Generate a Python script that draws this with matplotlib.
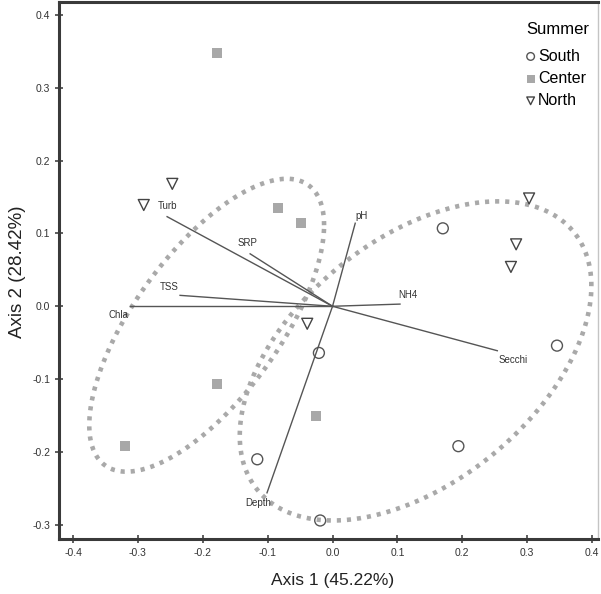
import numpy as np
import matplotlib.pyplot as plt

plt.rcParams['font.family'] = ['Liberation Sans', 'DejaVu Sans']
plt.rcParams['axes.unicode_minus'] = False

# ---- site scores on ordination axes 1 and 2 ----
south_x = [0.170, 0.346, 0.194, -0.021, -0.116, -0.019]
south_y = [0.107, -0.054, -0.192, -0.064, -0.210, -0.294]

center_x = [-0.178, -0.084, -0.049, -0.178, -0.320, -0.025]
center_y = [0.347, 0.135, 0.114, -0.106, -0.192, -0.150]

north_x = [-0.247, -0.291, 0.303, 0.283, 0.275, -0.039]
north_y = [0.168, 0.139, 0.148, 0.085, 0.054, -0.024]

# ---- environmental vectors ----
env_names = ['Turb', 'SRP', 'TSS', 'Chla', 'pH', 'NH4', 'Secchi', 'Depth']
env_x = [-0.255, -0.127, -0.235, -0.312, 0.035, 0.104, 0.254, -0.101]
env_y = [0.123, 0.072, 0.015, 0.000, 0.114, 0.003, -0.061, -0.256]

# ---- group ellipses: centre, half ranges, x/y coupling ----
ell_center = [(-0.194, -0.026), (0.128, -0.075)]
ell_half = [(0.181, 0.201), (0.271, 0.219)]
ell_rho = [0.683, 0.47]

xticks = [-0.4, -0.3, -0.2, -0.1, 0.0, 0.1, 0.2, 0.3, 0.4]
yticks = [-0.3, -0.2, -0.1, 0.0, 0.1, 0.2, 0.3, 0.4]

fig = plt.figure(figsize=(6.01, 5.94), dpi=100)
ax = fig.add_axes([0.0982, 0.0926, 0.8968, 0.904])

# dotted ellipses
t = np.linspace(0, 2 * np.pi, 400)
for (cx, cy), (xr, yr), rho in zip(ell_center, ell_half, ell_rho):
    d = np.arccos(rho)
    ax.plot(cx + xr * np.cos(t), cy + yr * np.cos(t - d),
            color='#a9a9a9', lw=3.3, linestyle=(0, (0.9, 1.3)), zorder=1)

# biplot arrows (plain lines from origin)
label_offsets = {
    'Turb': (0, 8), 'SRP': (-2, 8), 'TSS': (-7.5, 6), 'Chla': (-8.5, -6.5),
    'pH': (4.5, 5), 'NH4': (6, 6.5), 'Secchi': (11.5, -6.5), 'Depth': (-6, -7),
}
for name, ex, ey in zip(env_names, env_x, env_y):
    ax.plot([0, ex], [0, ey], color='#555555', lw=1.0, zorder=2)
    dx, dy = label_offsets[name]
    ax.annotate(name, xy=(ex, ey), xytext=(dx, dy), textcoords='offset points',
                ha='center', va='center', fontsize=7, color='#333333')

# site markers
ax.scatter(south_x, south_y, s=62, marker='o', facecolors='none',
           edgecolors='#555555', linewidths=1.0, label='South', zorder=3)
ax.scatter(center_x, center_y, s=62, marker='s', color='#a8a8a8',
           linewidths=0, label='Center', zorder=3)
ax.scatter(north_x, north_y, s=62, marker='v', facecolors='none',
           edgecolors='#444444', linewidths=1.0, label='North', zorder=3)

ax.set_xlim(-0.4216, 0.4092)
ax.set_ylim(-0.3194, 0.4176)
ax.set_xticks(xticks)
ax.set_yticks(yticks)
ax.set_xticklabels([f'{v:.1f}' for v in xticks])
ax.set_yticklabels([f'{v:.1f}' for v in yticks])
ax.tick_params(direction='inout', length=5.5, width=1.1, color='#333333',
               labelsize=7.5, labelcolor='#333333', pad=3.5)

for side in ['left', 'bottom', 'top']:
    ax.spines[side].set_color('#3a3a3a')
    ax.spines[side].set_linewidth(2.2)
ax.spines['right'].set_color('#c4c4c4')
ax.spines['right'].set_linewidth(1.0)

ax.set_xlabel('Axis 1 (45.22%)', fontsize=12.5, color='#222222')
ax.set_ylabel('Axis 2 (28.42%)', fontsize=13.5, color='#222222')
ax.xaxis.set_label_coords(0.507, -0.064)
ax.yaxis.set_label_coords(-0.062, 0.498)

leg = ax.legend(title='Summer', loc='upper left', bbox_to_anchor=(0.855, 0.975),
                frameon=False, fontsize=11.5, title_fontsize=12,
                handletextpad=0.2, handlelength=0.55, labelspacing=0.45,
                markerscale=0.7, borderaxespad=0.0)
leg._legend_box.align = 'left'
leg._legend_box.sep = 8.5

fig.savefig('out.png', dpi=100, facecolor='white')
